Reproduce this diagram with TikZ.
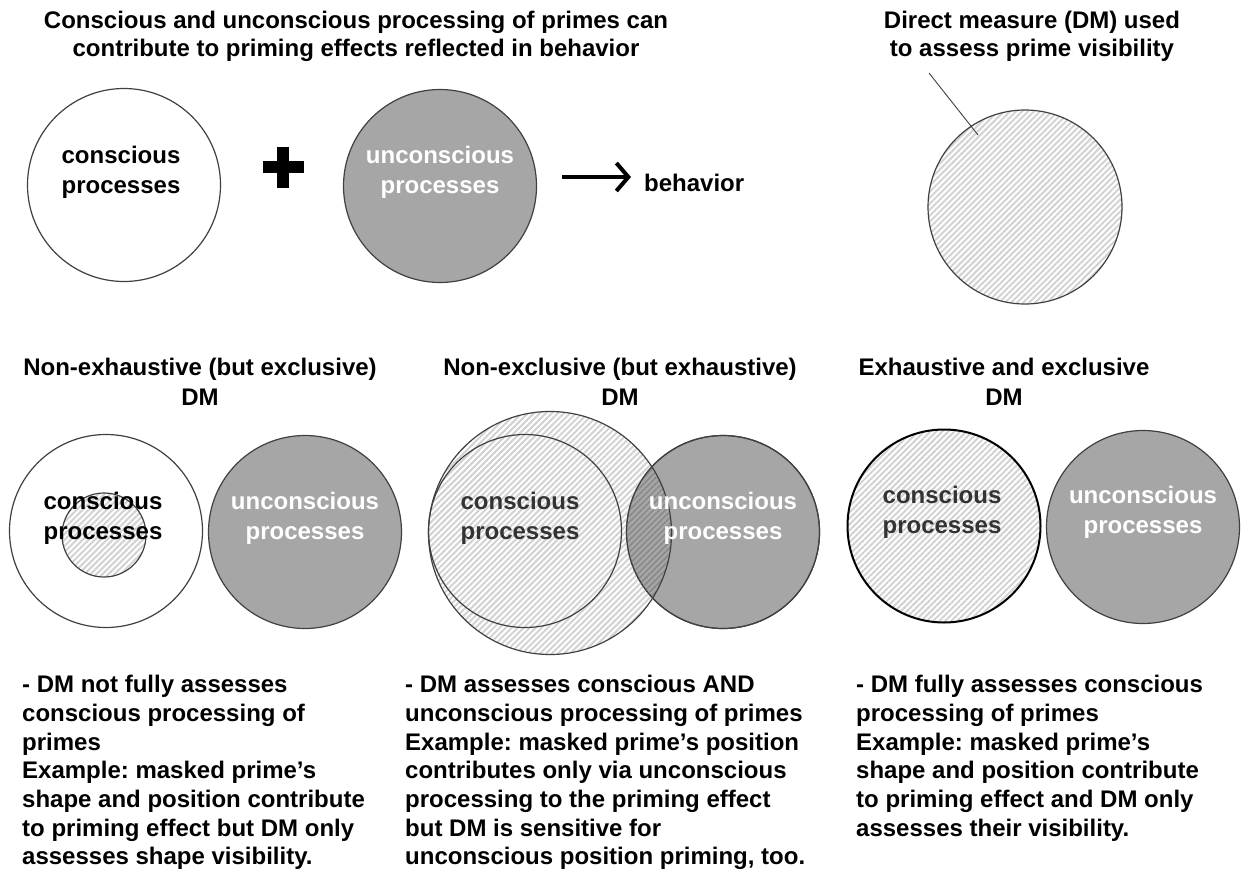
\documentclass[tikz,border=0pt]{standalone}
\usepackage{fontspec}
\setmainfont{Liberation Sans}
\usetikzlibrary{patterns.meta,arrows.meta}
\definecolor{procgray}{HTML}{A6A6A6}
\definecolor{rim}{HTML}{404040}
\definecolor{softink}{HTML}{333333}
\definecolor{hatchlight}{HTML}{D2D2D2}
\definecolor{hatchdark}{HTML}{888888}
\frenchspacing
\begin{document}
\begin{tikzpicture}[x=1pt,y=-1pt,
  txt/.style={font=\fontsize{24}{30}\selectfont\bfseries, align=center, inner sep=0pt},
  head/.style={txt, font=\fontsize{24}{28}\selectfont\bfseries},
  head2/.style={txt, font=\fontsize{24}{30}\selectfont\bfseries},
  para/.style={font=\fontsize{24}{28.7}\selectfont\bfseries, align=left, inner sep=0pt, anchor=north west},
  proc/.style={circle, inner sep=0pt, minimum size=193pt},
  rimline/.style={draw=rim, line width=1.2pt},
  grayproc/.style={proc, rimline, fill=procgray},
  whiteproc/.style={proc, rimline, fill=white},
  hatched/.style={pattern={Lines[angle=45,distance=4.25pt,line width=2pt]}, pattern color=hatchlight},
  hatcheddark/.style={pattern={Lines[angle=45,distance=4.25pt,line width=2pt]}, pattern color=hatchdark},
]
\useasboundingbox (0,0) rectangle (1242,881);

% ---------- top row: processes feeding behaviour ----------
\node[head] (title) at (356,36) {Conscious and unconscious processing of primes can\\contribute to priming effects reflected in behavior};

\node[whiteproc] (cTop) at (124,185) {};
\node[txt] (cTopLbl) at (121,172) {conscious\\processes};

% plus sign
\fill (262.5,161) rectangle (303.5,173);
\fill (277,146.5) rectangle (289,187.5);

\node[grayproc] (uTop) at (440,186) {};
\node[txt, white] (uTopLbl) at (440,172) {unconscious\\processes};

\node[txt, anchor=west] (behav) at (644,183) {behavior};
\coordinate (arrowTail) at (562,177);
\draw[line width=4pt, -{Straight Barb[length=12pt,width=28pt,line width=4pt]}, shorten >=13pt]
  (arrowTail) -- (arrowTail -| behav.west);

% direct measure
\node[head] (dmLbl) at (1032,36) {Direct measure (DM) used\\to assess prime visibility};
\node[proc, minimum size=194pt, rimline, hatched] (dmTop) at (1025,207) {};
\coordinate (leadStart) at (929,73);
\coordinate (leadEnd) at (978,135);
\draw[draw=rim, line width=0.9pt] (leadStart) -- (leadEnd);

% ---------- middle row: three kinds of DM ----------
\node[head2] (h1) at (200,382) {Non-exhaustive (but exclusive)\\DM};
\node[head2] (h2) at (620,382) {Non-exclusive (but exhaustive)\\DM};
\node[head2] (h3) at (1004,382) {Exhaustive and exclusive\\DM};

% panel 1
\node[whiteproc] (c1) at (106,531) {};
\node[proc, minimum size=84pt, rimline, hatched] (dm1) at (104,535) {};
\node[txt] (c1Lbl) at (103,518) {conscious\\processes};
\node[grayproc] (u1) at (305,532) {};
\node[txt, white] (u1Lbl) at (305,518) {unconscious\\processes};

% panel 2
\node[grayproc] (u2) at (723,532) {};
\node[proc, minimum size=243pt, hatched] (dm2) at (550,533) {};
\begin{scope}
  \clip (u2.center) circle[radius=96.5pt];
  \fill[hatcheddark] (dm2.center) circle[radius=121.5pt];
\end{scope}
\draw[rimline] (u2.center) circle[radius=96.5pt];
\draw[rimline] (dm2.center) circle[radius=121.5pt];
\node[proc, rimline] (c2) at (525,531) {};
\node[txt, white] (u2Lbl) at (723,518) {unconscious\\processes};
\node[txt, softink] (c2Lbl) at (520,518) {conscious\\processes};

% panel 3
\node[proc, draw=black, line width=2pt, hatched] (c3) at (944,526) {};
\node[txt, softink] (c3Lbl) at (942,512) {conscious\\processes};
\node[grayproc] (u3) at (1143,527) {};
\node[txt, white] (u3Lbl) at (1143,512) {unconscious\\processes};

% ---------- bottom row: explanations ----------
\node[para] (n1) at (22,675) {- DM not fully assesses\\conscious processing of\\primes\\Example: masked prime’s\\shape and position contribute\\to priming effect but DM only\\assesses shape visibility.};
\node[para] (n2) at (405,675) {- DM assesses conscious AND\\unconscious processing of primes\\Example: masked prime’s position\\contributes only via unconscious\\processing to the priming effect\\but DM is sensitive for\\unconscious position priming, too.};
\node[para] (n3) at (856,675) {- DM fully assesses conscious\\processing of primes\\Example: masked prime’s\\shape and position contribute\\to priming effect and DM only\\assesses their visibility.};
\end{tikzpicture}
\end{document}
